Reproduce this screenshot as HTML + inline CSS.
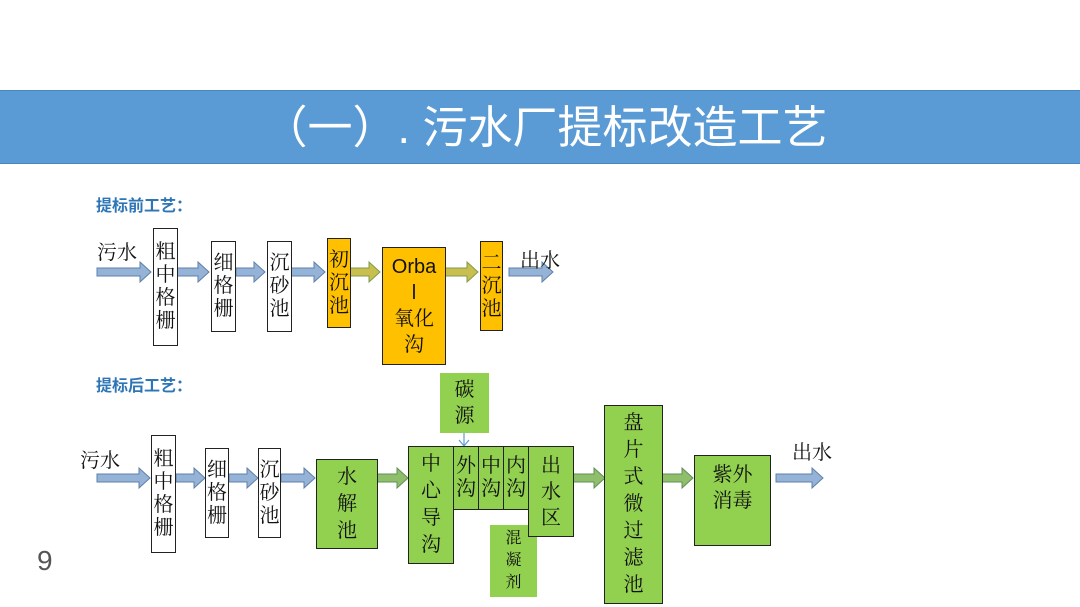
<!DOCTYPE html>
<html><head><meta charset="utf-8"><style>
body{margin:0;width:1080px;height:607px;background:#fff;overflow:hidden;position:relative;font-family:"Liberation Serif","Noto Serif CJK SC",serif}
.b{position:absolute;box-sizing:border-box;border:1.5px solid #222;display:flex;flex-direction:column;align-items:center;justify-content:center;font-size:20px;line-height:23px;color:#111;text-align:center}
.w{background:#fff}.o{background:#ffc000}.g{background:#92d050}
.t{position:absolute;font-size:20px;color:#111}
.h{position:absolute;font-family:"Liberation Sans","Noto Sans CJK SC",sans-serif;font-weight:bold;font-size:16px;color:#2e75b6}
svg{position:absolute;left:0;top:0}
</style></head><body>
<div style="position:absolute;left:0;top:90px;width:1080px;height:72px;background:#5b9bd5;border-top:1px solid #4a86c0;border-bottom:1px solid #4a86c0"></div>
<div style="position:absolute;left:0;top:92px;width:1090px;height:72px;line-height:72px;text-align:center;color:#fff;font-size:45px;font-family:'Liberation Sans','Noto Sans CJK SC',sans-serif">（一）. 污水厂提标改造工艺</div>
<div class="h" style="left:96px;top:192px">提标前工艺：</div>
<div class="h" style="left:96px;top:372px">提标后工艺：</div>
<div style="position:absolute;left:37px;top:545px;font-size:28px;color:#555;font-family:'Liberation Sans',sans-serif">9</div>

<svg width="1080" height="607">
<g stroke-width="1">
<g fill="#95b3d7" stroke="#5f7fa8">
<polygon points="97,268 140,268 140,262 151,272 140,282 140,276 97,276"/>
<polygon points="177,268 198,268 198,262 209,272 198,282 198,276 177,276"/>
<polygon points="236,268 254,268 254,262 265,272 254,282 254,276 236,276"/>
<polygon points="291,268 314,268 314,262 325,272 314,282 314,276 291,276"/>
<polygon points="509,268 542,268 542,262 553,272 542,282 542,276 509,276"/>
</g>
<g fill="#c9bf4f" stroke="#7f9a4f">
<polygon points="350,268 369,268 369,262 380,272 369,282 369,276 350,276"/>
<polygon points="445,268 467,268 467,262 478,272 467,282 467,276 445,276"/>
</g>
<g fill="#95b3d7" stroke="#5f7fa8">
<polygon points="97,474 139,474 139,468 150,478 139,488 139,482 97,482"/>
<polygon points="176,474 194,474 194,468 205,478 194,488 194,482 176,482"/>
<polygon points="229,474 247,474 247,468 258,478 247,488 247,482 229,482"/>
<polygon points="281,474 304,474 304,468 315,478 304,488 304,482 281,482"/>
<polygon points="776,474 812,474 812,468 823,478 812,488 812,482 776,482"/>
</g>
<g fill="#8fbf6a" stroke="#5f8f55">
<polygon points="377,474 397,474 397,468 408,478 397,488 397,482 377,482"/>
<polygon points="573,474 594,474 594,468 605,478 594,488 594,482 573,482"/>
<polygon points="662,474 682,474 682,468 693,478 682,488 682,482 662,482"/>
</g>
<g stroke="#5b9bd5" fill="none" stroke-width="1.2"><line x1="464" y1="433" x2="464" y2="446"/><polyline points="459,440 464,446 469,440"/></g>
</g>
</svg>

<div class="t" style="left:97px;top:236px">污水</div>
<div class="t" style="left:520px;top:244px">出水</div>
<div class="b w" style="left:153px;top:228px;width:25px;height:118px">粗<br>中<br>格<br>栅</div>
<div class="b w" style="left:211px;top:241px;width:25px;height:91px">细<br>格<br>栅</div>
<div class="b w" style="left:267px;top:241px;width:25px;height:91px">沉<br>砂<br>池</div>
<div class="b o" style="left:327px;top:238px;width:24px;height:90px">初<br>沉<br>池</div>
<div class="b o" style="left:382px;top:247px;width:64px;height:118px;line-height:26px"><span style="font-family:'Liberation Sans',sans-serif">Orba</span><span style="font-family:'Liberation Sans',sans-serif">l</span>氧化<br>沟</div>
<div class="b o" style="left:480px;top:241px;width:23px;height:90px">二<br>沉<br>池</div>

<div class="t" style="left:80px;top:444px">污水</div>
<div class="t" style="left:792px;top:436px">出水</div>
<div class="b w" style="left:151px;top:435px;width:25px;height:118px">粗<br>中<br>格<br>栅</div>
<div class="b w" style="left:205px;top:448px;width:24px;height:90px">细<br>格<br>栅</div>
<div class="b w" style="left:258px;top:448px;width:23px;height:90px">沉<br>砂<br>池</div>
<div class="b g" style="left:316px;top:459px;width:62px;height:90px;line-height:27px">水<br>解<br>池</div>
<div class="b g" style="left:440px;top:373px;width:49px;height:60px;border:none;line-height:26px">碳<br>源</div>
<div class="b g" style="left:408px;top:446px;width:46px;height:118px;line-height:27px">中<br>心<br>导<br>沟</div>
<div class="b g" style="left:453px;top:446px;width:26px;height:64px">外<br>沟</div>
<div class="b g" style="left:478px;top:446px;width:26px;height:64px">中<br>沟</div>
<div class="b g" style="left:503px;top:446px;width:26px;height:64px">内<br>沟</div>
<div class="b g" style="left:490px;top:525px;width:47px;height:72px;border:none;font-size:16px;line-height:22px">混<br>凝<br>剂</div>
<div class="b g" style="left:528px;top:446px;width:46px;height:91px;line-height:26px">出<br>水<br>区</div>
<div class="b g" style="left:604px;top:405px;width:59px;height:199px;line-height:27px">盘<br>片<br>式<br>微<br>过<br>滤<br>池</div>
<div class="b g" style="left:694px;top:455px;width:77px;height:91px;line-height:26px;justify-content:flex-start;padding-top:6px">紫外<br>消毒</div>
</body></html>
